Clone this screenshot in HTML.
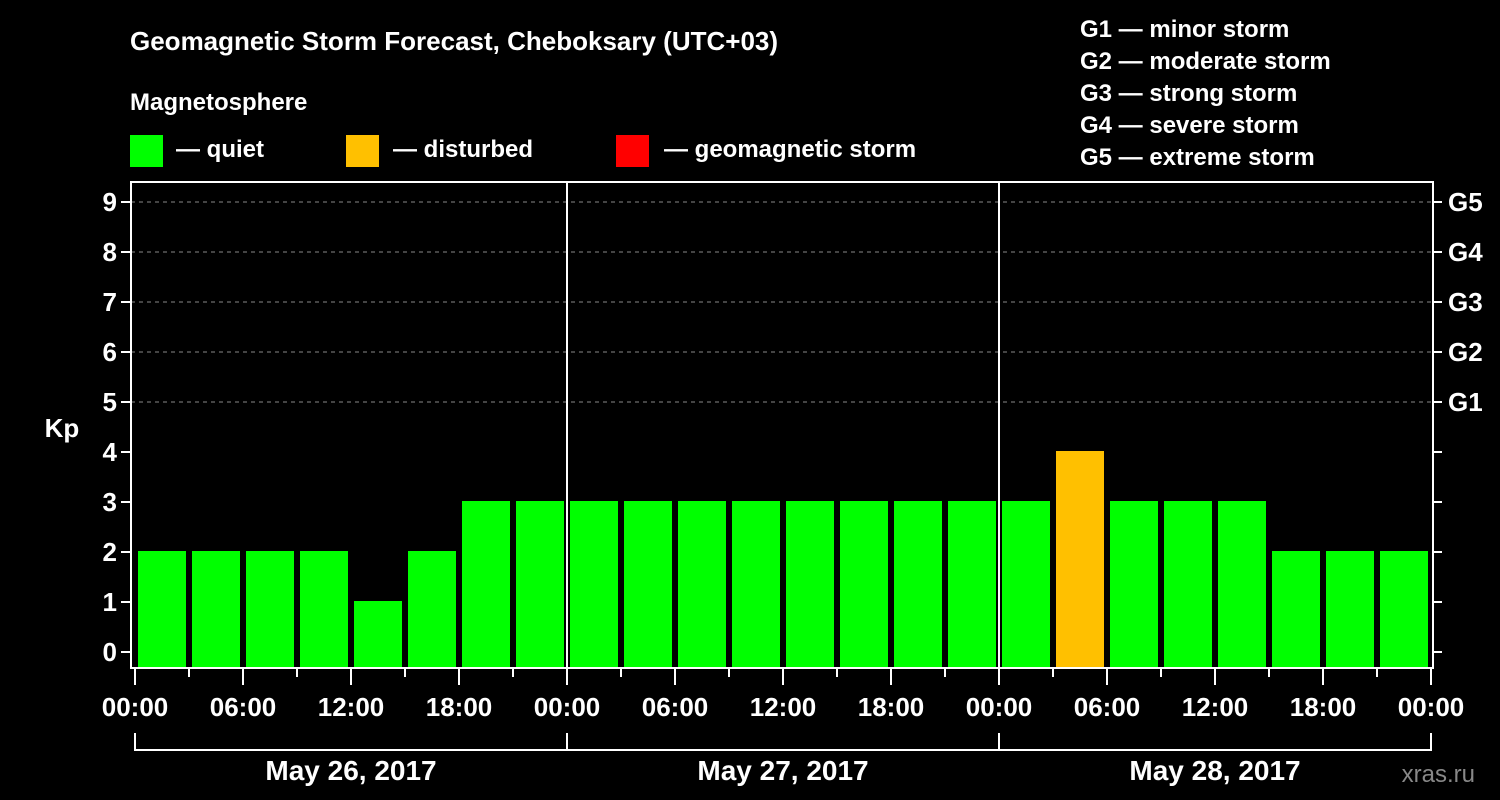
<!DOCTYPE html>
<html><head><meta charset="utf-8"><style>
body{margin:0;background:#000;}
svg{display:block;font-family:"Liberation Sans",Arial,sans-serif;font-weight:bold;}
</style></head><body>
<svg id="c" width="1500" height="800" viewBox="0 0 1500 800">
<rect width="1500" height="800" fill="#000"/>
<text x="130" y="50" fill="#fff" font-size="26">Geomagnetic Storm Forecast, Cheboksary (UTC+03)</text>
<text x="130" y="110" fill="#fff" font-size="24">Magnetosphere</text>
<g><rect x="130" y="135" width="33" height="32" fill="#00ff00"/><text x="176" y="157" fill="#fff" font-size="24">— quiet</text></g>
<g><rect x="346" y="135" width="33" height="32" fill="#ffc000"/><text x="393" y="157" fill="#fff" font-size="24">— disturbed</text></g>
<g><rect x="616" y="135" width="33" height="32" fill="#ff0000"/><text x="664" y="157" fill="#fff" font-size="24">— geomagnetic storm</text></g>
<g fill="#fff" font-size="24">
<text x="1080" y="37">G1 — minor storm</text>
<text x="1080" y="69">G2 — moderate storm</text>
<text x="1080" y="101">G3 — strong storm</text>
<text x="1080" y="133">G4 — severe storm</text>
<text x="1080" y="165">G5 — extreme storm</text>
</g>
<text x="62" y="437" fill="#fff" font-size="26" text-anchor="middle">Kp</text>
<text x="1475" y="782" fill="#888" font-size="24" font-weight="normal" text-anchor="end">xras.ru</text>
<g id="plot"></g>
</svg>
<script>
const kpValues=[2,2,2,2,1,2,3,3,3,3,3,3,3,3,3,3,3,4,3,3,3,2,2,2];
const dayLabels=["May 26, 2017","May 27, 2017","May 28, 2017"];
const hourLabels=["00:00","06:00","12:00","18:00"];
const kpTicks=[0,1,2,3,4,5,6,7,8,9];
const gLabels=["G1","G2","G3","G4","G5"];
const X0=135,SLOT=54,Y0=652,UNIT=50;
const L=131,R=1433,T=182,B=668;
const xs=i=>X0+i*SLOT;
const ys=v=>Y0-v*UNIT;
const NS="http://www.w3.org/2000/svg";
const plot=document.getElementById('plot');
function mk(tag,a,p){const e=document.createElementNS(NS,tag);for(const k in a)e.setAttribute(k,a[k]);(p||plot).appendChild(e);return e;}
// grid
for(let v=5;v<=9;v++){
const g=mk('line',{x1:L,x2:R,y1:ys(v),y2:ys(v),stroke:'#888','stroke-dasharray':'4,4','stroke-width':1});


}
// bars
kpValues.forEach((v,i)=>{
const col=v>=5?'#ff0000':(v>=4?'#ffc000':'#00ff00');
const top=ys(v)-1;
const b=mk('rect',{x:xs(i)+3,y:top,width:48,height:B-1-top,fill:col});


});
// day separators
for(let d=1;d<dayLabels.length;d++){
const s=mk('line',{x1:xs(d*8),x2:xs(d*8),y1:T,y2:B,stroke:'#fff','stroke-width':2});


}
// frame
const fr=mk('rect',{x:L,y:T,width:R-L,height:B-T,fill:'none',stroke:'#fff','stroke-width':2});


// y ticks
kpTicks.forEach(v=>{
mk('line',{x1:L-10,x2:L,y1:ys(v),y2:ys(v),stroke:'#fff','stroke-width':2});
mk('line',{x1:R,x2:R+9,y1:ys(v),y2:ys(v),stroke:'#fff','stroke-width':2});
const t=mk('text',{x:L-14,y:ys(v)+9,fill:'#fff','font-size':26,'text-anchor':'end'});
t.textContent=v;


});
gLabels.forEach((g,i)=>{
const t=mk('text',{x:R+15,y:ys(5+i)+9,fill:'#fff','font-size':26});
t.textContent=g;


});
// x ticks
for(let i=0;i<=kpValues.length;i++){
const major=i%2===0;
mk('line',{x1:xs(i),x2:xs(i),y1:B,y2:major?685:677,stroke:'#fff','stroke-width':2});
if(major){
const t=mk('text',{x:xs(i),y:716,fill:'#fff','font-size':26,'text-anchor':'middle'});
t.textContent=hourLabels[(i/2)%4];


}
}
// day brackets
mk('polyline',{points:`${xs(0)},733 ${xs(0)},750 ${xs(24)},750 ${xs(24)},733`,fill:'none',stroke:'#fff','stroke-width':2});
dayLabels.forEach((d,k)=>{
if(k>0)mk('line',{x1:xs(k*8),x2:xs(k*8),y1:733,y2:750,stroke:'#fff','stroke-width':2});
const t=mk('text',{x:xs(k*8+4),y:780,fill:'#fff','font-size':28,'text-anchor':'middle'});
t.textContent=d;


});
</script>
</body></html>
